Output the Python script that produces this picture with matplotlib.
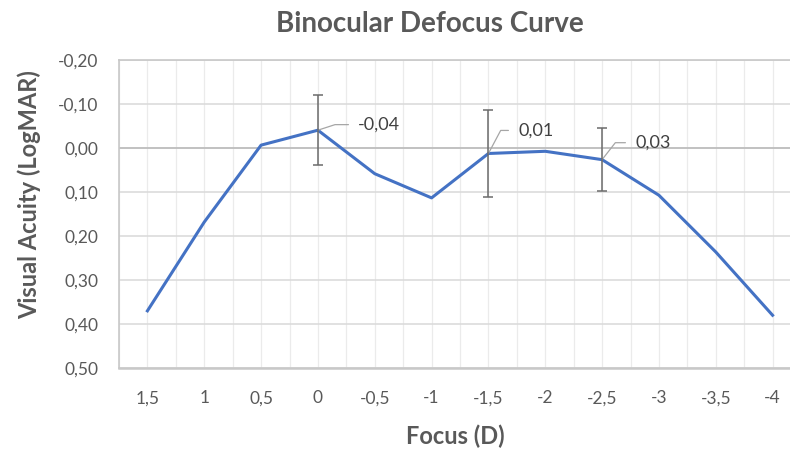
import numpy as np
import matplotlib.pyplot as plt

focus = ['1,5', '1', '0,5', '0', '-0,5', '-1', '-1,5', '-2', '-2,5', '-3', '-3,5', '-4']
acuity = [0.37, 0.168, -0.007, -0.041, 0.058, 0.113, 0.012, 0.007, 0.026, 0.107, 0.236, 0.38]
err = [0, 0, 0, 0.079, 0, 0, 0.099, 0, 0.072, 0, 0, 0]
labels = {3: '-0,04', 6: '0,01', 8: '0,03'}
yticks = [-0.2, -0.1, 0.0, 0.1, 0.2, 0.3, 0.4, 0.5]

plt.rcParams['font.family'] = ['Lato', 'DejaVu Sans']
grey = '#595959'

fig = plt.figure(figsize=(7.9, 4.51), dpi=100)
ax = fig.add_axes([119/790, 1-368/451, 682/790, (368-60.3)/451])

x = np.arange(len(focus))
ax.set_xlim(-0.5, 11.5)
ax.set_ylim(0.5, -0.2)

# grid
for gx in np.arange(-0.5, 12, 0.5):
    ax.axvline(gx, color='#ebebeb', lw=0.9, zorder=0)
for gy in yticks:
    ax.axhline(gy, color='#d9d9d9', lw=1.1, zorder=0)
ax.axhline(0, color='#bfbfbf', lw=1.3, zorder=1)

for s in ['top', 'left', 'bottom']:
    ax.spines[s].set_color('#c8c8c8')
    ax.spines[s].set_linewidth(1.2)
ax.spines['bottom'].set_linewidth(1.8)
ax.spines['right'].set_visible(False)

ax.plot(x, acuity, color='#4472C4', lw=2.2, zorder=3)
idx = [i for i in x if err[i] > 0]
ax.errorbar(idx, [acuity[i] for i in idx], yerr=[err[i] for i in idx], fmt='none',
            ecolor='#6b6b6b', elinewidth=1.1, capsize=3.4, capthick=1.1, zorder=4)

offs = {3: (29, 4, 18), 6: (21.4, 16.6, 62), 8: (23.8, 12.2, 52)}
for i, txt in labels.items():
    dx, dy, ang = offs[i]
    ax.annotate(txt, xy=(i, acuity[i]), xytext=(dx, dy), textcoords='offset points',
                ha='left', va='center', fontsize=13, color='#404040',
                arrowprops=dict(arrowstyle='-', color='#a6a6a6', lw=0.9, shrinkA=5, shrinkB=0,
                                relpos=(0, 0.5),
                                connectionstyle='angle,angleA=0,angleB=%d,rad=0' % ang))

ax.set_xticks(x)
ax.set_xticklabels(focus)
ax.set_yticks(yticks)
ax.set_yticklabels([('%.2f' % v).replace('.', ',') for v in yticks])
ax.tick_params(length=0, labelsize=12.5, labelcolor=grey)
ax.tick_params(axis='y', pad=15)
ax.tick_params(axis='x', pad=16)

fig.text(430/790, 1-24/451, 'Binocular Defocus Curve', ha='center', va='center',
         fontsize=20, fontweight='bold', color=grey)
fig.text(455/790, 1-436/451, 'Focus (D)', ha='center', va='center',
         fontsize=17, fontweight='bold', color=grey)
fig.text(29/790, 1-195/451, 'Visual Acuity (LogMAR)', ha='center', va='center',
         rotation=90, fontsize=17, fontweight='bold', color=grey)

fig.savefig('out.png', dpi=100)
